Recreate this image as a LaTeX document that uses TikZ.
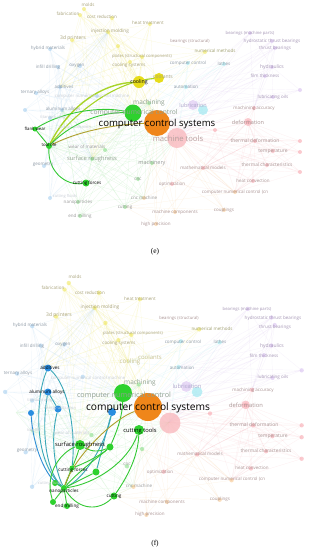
\documentclass[tikz,border=0pt]{standalone}
\usepackage{fontspec}
\setmainfont{Open Sans}
\newfontfamily\capfont{Liberation Serif}
\definecolor{ty}{HTML}{A8A27A}
\definecolor{tb}{HTML}{8E9AA6}
\definecolor{tp}{HTML}{A596B5}
\definecolor{tr}{HTML}{AA9494}
\definecolor{tg}{HTML}{9A9A9A}
\definecolor{tn}{HTML}{A0A070}
\definecolor{tm}{HTML}{8FA08F}
\definecolor{tl}{HTML}{B0A8CC}
\definecolor{tmt}{HTML}{B8A0A0}
\definecolor{tyl}{HTML}{C8C290}
\definecolor{tf}{HTML}{C8CED6}
\definecolor{cy}{HTML}{F0E860}
\definecolor{cb}{HTML}{A8D0F0}
\definecolor{cg}{HTML}{8EE08E}
\definecolor{cr}{HTML}{F8A8B0}
\definecolor{co}{HTML}{F8C890}
\definecolor{cp}{HTML}{D8C0F0}
\definecolor{cc}{HTML}{A0E8F0}
\definecolor{hgreen}{HTML}{33C933}
\definecolor{hyg}{HTML}{A8D428}
\definecolor{hblue}{HTML}{2F8ED6}
\definecolor{hteal}{HTML}{3AA8B8}
\definecolor{horange}{HTML}{EF861A}
\definecolor{holive}{HTML}{B0A030}
\definecolor{nyellow}{HTML}{E6DC1A}
\definecolor{ngreen}{HTML}{2ED12E}
\definecolor{nblue}{HTML}{2A8DE0}
\definecolor{npink}{HTML}{F9B9BE}
\pgfdeclarelayer{weblayer}
\pgfdeclarelayer{edgelayer}
\pgfsetlayers{weblayer,edgelayer,main}
\tikzset{
  lb/.style={inner sep=0pt, text=tg},
  bl/.style={inner sep=0pt, text=black},
  dot/.style={circle, inner sep=0pt, draw=none},
  webY/.style={line width=0.2pt, draw=cy, opacity=0.25},
  webB/.style={line width=0.2pt, draw=cb, opacity=0.25},
  webG/.style={line width=0.2pt, draw=cg, opacity=0.25},
  webR/.style={line width=0.2pt, draw=cr, opacity=0.22},
  webO/.style={line width=0.2pt, draw=co, opacity=0.25},
  webP/.style={line width=0.2pt, draw=cp, opacity=0.25},
  webC/.style={line width=0.2pt, draw=cc, opacity=0.25},
  hl/.style={line width=0.9pt, draw=hgreen},
  hlb/.style={line width=0.9pt, draw=hteal},
}
\newcommand{\bgweb}[1]{%
  \foreach \n/\x/\y in {Y1/84/9,Y2/80/15,Y3/112/18,Y4/150/24,Y5/108/32,Y6/72/40,Y7/118/46,Y8/130/62,Y9/139/82,Y10/159/78,Y11/205/52,Y12/142/57,
    B1/50/49,B2/58/67,B3/80/66,B4/36/93,B5/60/87,B6/62/110,B7/50/118,B8/44/166,B9/50/198,B10/97/96,B11/25/110,
    G1/133/113,G2/49/146,G3/35/129,G4/86/183,G5/92/159,G6/78/202,G7/80/216,G8/125/207,G9/138/179,G10/152/163,G11/149/103,G12/105/150,
    R1/177/138,R2/255/141,R3/273/151,R4/267/165,R5/203/168,R6/253/181,R7/248/122,R8/254/108,R9/300/141,R10/300/152,R11/300/172,R12/172/184,R13/215/130,
    O1/157/123,O2/235/192,O3/224/210,O4/175/212,O5/156/224,O6/144/198,
    P1/250/33,P2/272/41,P3/275/48,P4/272/67,P5/265/76,P6/273/97,P7/193/105,P8/300/90,
    C1/188/63,C2/224/64,C3/186/87,C4/203/110}
    {\coordinate (#1\n) at (\x,\y);}
  \foreach \p in {Y1,Y2,Y3,Y4,Y5,Y6,Y7,Y8,Y9,Y10,Y11,Y12}
    {\draw[webY] (#1\p) -- (#1O1) (#1\p) -- (#1Y9) (#1\p) -- (#1G1) (#1\p) -- (#1Y5) (#1\p) -- (#1Y12) (#1\p) -- (#1B5) (#1\p) -- (#1G5);}
  \foreach \p in {B1,B2,B3,B4,B5,B6,B7,B8,B9,B10,B11}
    {\draw[webB] (#1\p) -- (#1G2) (#1\p) -- (#1O1) (#1\p) -- (#1B6) (#1\p) -- (#1G1) (#1\p) -- (#1B5) (#1\p) -- (#1G5) (#1\p) -- (#1Y5);}
  \foreach \p in {G2,G3,G4,G5,G6,G7,G8,G9,G10,G11,G12}
    {\draw[webG] (#1\p) -- (#1O1) (#1\p) -- (#1G1) (#1\p) -- (#1G5) (#1\p) -- (#1R1) (#1\p) -- (#1B6) (#1\p) -- (#1O6) (#1\p) -- (#1G2);}
  \foreach \p in {R2,R3,R4,R5,R6,R7,R8,R9,R10,R11,R12,R13}
    {\draw[webR] (#1\p) -- (#1R1) (#1\p) -- (#1O1) (#1\p) -- (#1R7) (#1\p) -- (#1R2) (#1\p) -- (#1R5) (#1\p) -- (#1O2);}
  \foreach \p in {O2,O3,O4,O5,O6}
    {\draw[webO] (#1\p) -- (#1O1) (#1\p) -- (#1R1) (#1\p) -- (#1G10) (#1\p) -- (#1R5) (#1\p) -- (#1G8);}
  \foreach \p in {P1,P2,P3,P4,P5,P6,P8}
    {\draw[webP] (#1\p) -- (#1O1) (#1\p) -- (#1R1) (#1\p) -- (#1P7) (#1\p) -- (#1P4) (#1\p) -- (#1R8) (#1\p) -- (#1C3);}
  \foreach \p in {C1,C2,C3,C4}
    {\draw[webC] (#1\p) -- (#1O1) (#1\p) -- (#1G1) (#1\p) -- (#1C3) (#1\p) -- (#1R1) (#1\p) -- (#1Y9);}
  \foreach \p/\c in {Y1/cy,Y2/cy,Y3/cy,Y4/cy,Y5/cy,Y6/cy,Y7/cy,Y8/cy,Y11/cy,Y12/cy,
    B1/cb,B2/cb,B3/cb,B4/cb,B5/cb,B6/cb,B7/cb,B8/cb,B9/cb,B10/cb,B11/cb,
    G4/cg,G5/cg,G6/cg,G7/cg,G8/cg,G9/cg,G10/cg,G11/cg,G12/cg,
    R2/cr,R3/cr,R4/cr,R5/cr,R6/cr,R7/cr,R8/cr,R9/cr,R10/cr,R11/cr,R12/cr,R13/cr,
    O2/co,O3/co,O4/co,O5/co,O6/co,
    P1/cp,P2/cp,P3/cp,P4/cp,P5/cp,P6/cp,P8/cp,C1/cc,C2/cc,C3/cc}
    {\fill[\c, opacity=0.6] (#1\p) circle (2);}
  \fill[cp, opacity=0.6] (#1P7) circle (5);
  \fill[cc, opacity=0.7] (#1C4) circle (5);
  \fill[cr, opacity=0.6] (#1R7) circle (4);
}
\begin{document}
\begin{tikzpicture}[x=1pt,y=-1pt]
\useasboundingbox (0,0) rectangle (330,550);
\begin{pgfonlayer}{weblayer}
\fill[white] (0,0) rectangle (330,550);
\bgweb{e}
\begin{scope}[shift={(-21.8,273.3)}, scale=1.078]
\bgweb{f}
\end{scope}
\end{pgfonlayer}
% ================= panel (e) =================
\node[dot, fill=npink, opacity=0.8, minimum size=20pt] (emt) at (177,138) {};
\node[dot, fill=nyellow, minimum size=10pt] (ecoolant) at (159,78) {};
\node[dot, fill=nyellow, minimum size=12pt] (ecool) at (139,82) {};
\node[dot, fill=ngreen, minimum size=17pt] (ecnc) at (133,113) {};
\node[dot, fill=horange, minimum size=26pt] (eccs) at (157,123) {};
\node[dot, fill=ngreen, minimum size=5pt] (eflank) at (35,129) {};
\node[dot, fill=ngreen, minimum size=6pt] (etool) at (49,146) {};
\node[dot, fill=ngreen, minimum size=7pt] (ecf) at (86,183) {};
\begin{pgfonlayer}{edgelayer}
\draw[hl, draw=hyg, line width=1.4pt] (etool) .. controls (68,108) and (100,84) .. (ecool);
\draw[hl, draw=hyg, line width=1.1pt] (etool) .. controls (78,110) and (115,82) .. (ecoolant);
\draw[hl] (eflank) .. controls (62,112) and (100,106) .. (ecnc);
\draw[hl] (etool) .. controls (75,120) and (105,112) .. (ecnc);
\draw[hl, draw=holive] (etool) .. controls (85,128) and (125,124) .. (eccs);
\draw[hl] (eflank) -- (etool);
\draw[hl] (etool) .. controls (48,172) and (66,186) .. (ecf);
\end{pgfonlayer}
\foreach \t/\x/\y/\s/\c [count=\i] in {
  molds/88/5/4.5/ty, fabrication/68/14/4.5/ty, cost reduction/102/17/4.5/ty,
  heat treatment/148/23/4.5/ty, injection molding/110/31/4.7/ty, 3d printers/73/38/5/ty,
  hybrid materials/48/48/4.5/tb, plates (structural components)/142/56/4.2/ty,
  bearings (structural)/190/41/4.2/tr, numerical methods/215/51/4.5/tn,
  bearings (machine parts)/250/33/4.2/tp, hydrostatic thrust bearings/272/41/4.5/tp,
  thrust bearings/275/48/4.5/tp, computer control/188/63/4.5/tb, lathes/224/64/4.5/tb,
  hydraulics/272/67/5/tp, film thickness/265/76/4.5/tp, cooling systems/129/65/4.5/ty,
  infill drilling/48/67/4.5/tb, oxygen/77/66/4.5/tb, automation/186/87/4.5/tb,
  lubricating oils/273/97/4.5/tp, ternary alloys/35/92/4.5/tb, additives/64/87/4.5/tb,
  lubrication/193/105/5.5/tl, machining accuracy/254/108/4.5/tr, aluminum alloys/63/109/4.5/tb,
  machining/149/103/6.5/tm, computer numerical control/134/113/6.7/tm, deformation/248/122/5.5/tr,
  thermal deformation/255/141/5/tr, wear of materials/87/147/4.5/tg, temperature/273/151/5/tr,
  surface roughness/92/159/5.8/tm, machinery/152/163/5.5/tg, geometry/43/165/4.5/tb,
  thermal characteristics/267/165/4.8/tr, mathematical models/203/168/4.5/tr, cnc/138/179/4.5/tg,
  heat convection/253/181/4.5/tr, optimization/172/184/4.5/tr,
  computer numerical control (cn/235/192/4.5/tr, cnc machine/144/198/4.5/tg,
  nanoparticles/78/202/4.5/tg, cutting/125/207/4.5/tg, couplings/224/210/4.5/tr,
  machine components/175/212/4.5/tr, end milling/80/216/4.5/tg, high precision/156/224/4.5/tr,
  coolants/163/77/5/ty, machine tools/178/139/7.7/tmt,
  computer numerical control machine/92/96/4.3/tf, titanium alloy/53/117/4/tf,
  energy utilization/75/127/4/tf, cutting fluids/65/196/4/tf}
  {\node[lb, text=\c, font=\fontsize{\s}{\s}\selectfont] (el\i) at (\x,\y) {\t};}
\node[bl, font=\fontsize{9.6}{10}\selectfont] (elccs) at (157,124) {computer control systems};
\node[bl, font=\fontsize{5.2}{6}\selectfont] (elcool) at (139,82) {cooling};
\node[bl, font=\fontsize{4.3}{5}\selectfont] (elflank) at (35,129) {flank wear};
\node[bl, font=\fontsize{4.3}{5}\selectfont] (eltool) at (49,145) {tool life};
\node[bl, font=\fontsize{4.5}{5}\selectfont] (elcf) at (87,183) {cutting forces};
\node[font=\capfont\fontsize{7.5}{8}\selectfont, inner sep=0pt] (cape) at (155,252) {(e)};
% ================= panel (f) =================
\node[dot, fill=npink, opacity=0.8, minimum size=21pt] (fmt) at (170,423) {};
\node[dot, fill=nblue, minimum size=7pt] (fadd) at (48,368) {};
\node[dot, fill=nblue, minimum size=7pt] (falu) at (48,392) {};
\node[dot, fill=nblue, minimum size=6pt] (fb1) at (31,413) {};
\node[dot, fill=nblue, minimum size=7pt] (fb2) at (58,409) {};
\node[dot, fill=nblue, minimum size=8pt] (fb3) at (112,412) {};
\node[dot, fill=ngreen, minimum size=18pt] (fcnc) at (123,393) {};
\node[dot, fill=horange, minimum size=28pt] (fccs) at (148,407) {};
\node[dot, fill=ngreen, minimum size=10pt] (fct) at (139,430) {};
\node[dot, fill=ngreen, minimum size=10pt] (fsr) at (80,445) {};
\node[dot, fill=ngreen, minimum size=7pt] (fg1) at (110,447) {};
\node[dot, fill=ngreen, minimum size=5pt] (fcf) at (72,468) {};
\node[dot, fill=ngreen, minimum size=7pt] (fg2) at (96,472) {};
\node[dot, fill=ngreen, minimum size=6pt] (fg3) at (55,483) {};
\node[dot, fill=ngreen, minimum size=6pt] (fnano) at (64,488) {};
\node[dot, fill=ngreen, minimum size=7pt] (fcut) at (114,496) {};
\node[dot, fill=ngreen, minimum size=6pt] (fem1) at (53,502) {};
\node[dot, fill=ngreen, minimum size=6pt] (fem2) at (67,506) {};
\begin{pgfonlayer}{edgelayer}
\draw[hlb] (fadd) .. controls (36,395) and (32,460) .. (fnano);
\draw[hlb] (fadd) .. controls (68,385) and (76,430) .. (fcf);
\draw[hlb] (falu) -- (fb2);
\draw[hlb] (falu) .. controls (42,425) and (44,470) .. (fnano);
\draw[hlb, draw=hblue] (fb1) .. controls (33,445) and (45,478) .. (fnano);
\draw[hlb] (fb2) .. controls (50,440) and (55,470) .. (fnano);
\draw[hlb] (fb3) .. controls (105,445) and (85,478) .. (fnano);
\draw[hlb] (fb3) .. controls (104,440) and (100,458) .. (fg2);
\draw[hl] (fcnc) .. controls (122,420) and (115,435) .. (fg1);
\draw[hl] (fnano) .. controls (70,472) and (76,460) .. (fsr);
\draw[hl] (fnano) .. controls (80,470) and (100,456) .. (fg1);
\draw[hl] (fnano) .. controls (95,484) and (128,462) .. (fct);
\draw[hl] (fnano) -- (fcf);
\draw[hl] (fnano) -- (fg2);
\draw[hl] (fnano) -- (fg3);
\draw[hl] (fnano) .. controls (80,512) and (100,510) .. (fcut);
\draw[hl] (fnano) -- (fem1);
\draw[hl] (fnano) -- (fem2);
\draw[hl] (fem1) .. controls (44,472) and (62,452) .. (fsr);
\draw[hl] (fsr) .. controls (92,452) and (100,452) .. (fg1);
\draw[hl] (fcf) .. controls (88,462) and (102,454) .. (fg1);
\draw[hl] (fcut) .. controls (128,476) and (138,456) .. (fct);
\draw[hl, draw=holive] (fnano) .. controls (75,455) and (115,418) .. (fccs);
\end{pgfonlayer}
\foreach \t/\x/\y/\s/\c [count=\i] in {
  molds/75/277/4.5/ty, fabrication/53/288/4.5/ty, cost reduction/90/293/4.5/ty,
  heat treatment/140/299/4.5/ty, injection molding/100/307/4.8/ty, 3d printers/59/315/5/ty,
  hybrid materials/30/325/4.5/tb, bearings (machine parts)/247/309/4.2/tp,
  hydrostatic thrust bearings/273/318/4.5/tp, bearings (structural)/179/318/4.2/tr,
  plates (structural components)/133/333/4.2/ty, numerical methods/212/329/4.5/tn,
  thrust bearings/275/327/4.5/tp, computer control/183/342/4.5/tb, lathes/220/342/4.5/tb,
  hydraulics/272/346/5/tp, film thickness/264/356/4.5/tp, lubricating oils/273/377/4.5/tp,
  automation/182/368/4.5/tb, lubrication/187/386/5.8/tl, machining accuracy/253/390/4.5/tr,
  deformation/246/405/5.8/tr, cooling systems/119/343/4.5/ty, infill drilling/32/346/4.5/tb,
  oxygen/63/345/4.5/tb, coolants/150/357/6/tyl, cooling/130/362/6.2/tyl,
  ternary alloys/18/373/4.5/tb, machining/140/383/6.5/tm, computer numerical control/124/396/7.2/tm,
  thermal deformation/254/425/5/tr, temperature/273/436/5/tr, mathematical models/200/454/4.5/tr,
  thermal characteristics/266/451/4.8/tr, geometry/27/451/4.5/tb, cnc/127/464/4.5/tg,
  heat convection/252/468/4.5/tr, optimization/160/472/4.5/tr,
  computer numerical control (cn/232/479/4.5/tr, cnc machine/139/486/4.5/tg,
  machine components/162/502/4.5/tr, couplings/220/499/4.5/tr, high precision/150/514/4.5/tr,
  computer numerical control machine/88/378/4.3/tf, titanium alloy/40/400/4/tf,
  energy utilization/60/408/4/tf, tool life/34/430/4/tf, wear of materials/72/433/4.3/tf,
  cutting fluids/50/483/4/tf}
  {\node[lb, text=\c, font=\fontsize{\s}{\s}\selectfont] (fl\i) at (\x,\y) {\t};}
\node[bl, font=\fontsize{10.2}{11}\selectfont] (flccs) at (148,408) {computer control systems};
\node[bl, font=\fontsize{4.6}{5}\selectfont] (fladd) at (50,368) {additives};
\node[bl, font=\fontsize{4.6}{5}\selectfont] (flalu) at (47,392) {aluminum alloys};
\node[bl, font=\fontsize{5.8}{6}\selectfont] (flct) at (140,431) {cutting tools};
\node[bl, font=\fontsize{5.8}{6}\selectfont] (flsr) at (80,445) {surface roughness};
\node[bl, font=\fontsize{4.6}{5}\selectfont] (flcf) at (73,470) {cutting forces};
\node[bl, font=\fontsize{4.6}{5}\selectfont] (flnano) at (64,491) {nanoparticles};
\node[bl, font=\fontsize{4.6}{5}\selectfont] (flcut) at (114,496) {cutting};
\node[bl, font=\fontsize{4.6}{5}\selectfont] (flem) at (67,506) {end milling};
\node[font=\capfont\fontsize{7.5}{8}\selectfont, inner sep=0pt] (capf) at (155,544) {(f)};
\end{tikzpicture}
\end{document}
